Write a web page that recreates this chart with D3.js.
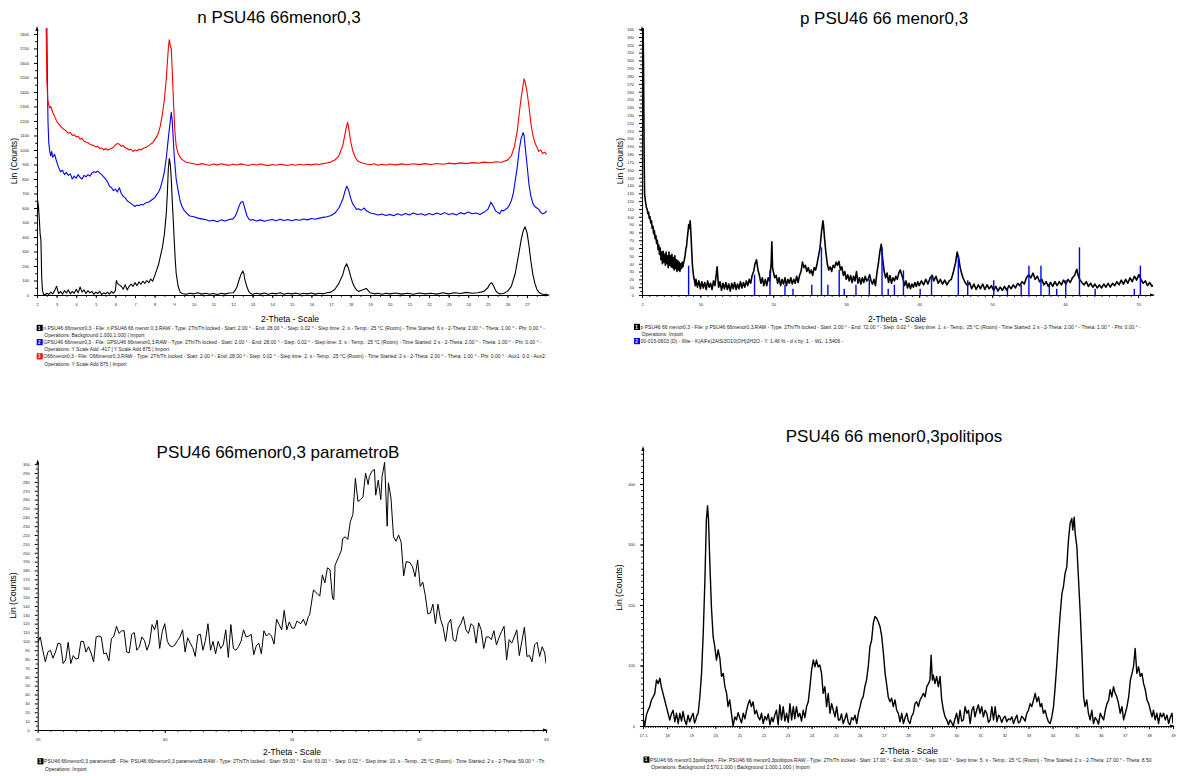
<!DOCTYPE html>
<html>
<head>
<meta charset="utf-8">
<script src="https://cdn.jsdelivr.net/npm/d3@7/dist/d3.min.js"></script>
<style>
  body { margin: 0; background: #fff; }
  svg { font-family: "Liberation Sans", Arial, sans-serif; }
</style>
</head>
<body>
<svg id="chart" width="1177" height="776"></svg>
<script>
// ---- n PSU46 66menor0,3 (three scans, 2-Theta vs counts) ----
const nScan = [[2.00,430],[2.04,650],[2.08,600],[2.12,520],[2.16,420],[2.2,380],[2.24,120],[2.28,30],[2.34,5],[2.4,0],[2.5,12],[2.6,3],[2.7,20],[2.8,8],[2.9,30],[3.0,60],[3.1,10],[3.2,25],[3.3,5],[3.4,30],[3.5,15],[3.6,35],[3.7,8],[3.8,25],[3.9,12],[4.0,40],[4.1,15],[4.2,55],[4.3,20],[4.4,35],[4.5,10],[4.6,30],[4.7,15],[4.8,25],[4.9,5],[5.0,20],[5.1,10],[5.2,25],[5.3,3],[5.4,15],[5.5,8],[5.6,20],[5.7,5],[5.8,25],[5.9,12],[6.0,30],[6.05,100],[6.1,80],[6.2,70],[6.3,60],[6.4,40],[6.5,70],[6.6,35],[6.7,60],[6.8,75],[6.9,60],[7.0,85],[7.1,65],[7.2,90],[7.3,75],[7.4,95],[7.5,80],[7.6,100],[7.7,85],[7.8,110],[7.9,95],[8.0,130],[8.1,170],[8.2,210],[8.3,270],[8.4,330],[8.5,420],[8.6,570],[8.65,700],[8.7,870],[8.75,940],[8.8,900],[8.85,800],[8.9,650],[8.95,520],[9.0,380],[9.05,250],[9.1,150],[9.2,60],[9.3,20],[9.4,10],[9.6,5],[9.8,12],[10.0,8],[10.2,15],[10.4,6],[10.6,12],[10.8,5],[11.0,10],[11.2,4],[11.4,12],[11.6,6],[11.8,14],[12.0,15],[12.1,30],[12.2,55],[12.3,100],[12.4,140],[12.5,165],[12.55,150],[12.6,110],[12.7,60],[12.8,25],[12.9,10],[13.0,5],[13.2,12],[13.4,6],[13.6,14],[13.8,5],[14.0,12],[14.2,8],[14.4,15],[14.6,5],[14.8,12],[15.0,8],[15.2,14],[15.4,5],[15.6,12],[15.8,8],[16.0,14],[16.2,6],[16.4,12],[16.6,8],[16.8,15],[17.0,20],[17.2,40],[17.4,80],[17.6,140],[17.7,190],[17.8,215],[17.9,180],[18.0,130],[18.1,85],[18.2,55],[18.3,35],[18.4,25],[18.5,30],[18.6,35],[18.7,40],[18.8,45],[18.9,30],[19.0,15],[19.2,8],[19.4,12],[19.6,5],[19.8,12],[20.0,8],[20.3,14],[20.6,6],[20.9,12],[21.2,5],[21.5,14],[21.8,8],[22.1,12],[22.4,6],[22.7,15],[23.0,8],[23.3,16],[23.6,10],[23.9,18],[24.2,12],[24.5,15],[24.8,25],[25.0,50],[25.1,75],[25.2,85],[25.3,60],[25.4,30],[25.5,15],[25.6,8],[25.8,10],[26.0,25],[26.2,60],[26.4,150],[26.6,300],[26.7,380],[26.8,440],[26.9,470],[27.0,430],[27.1,340],[27.2,230],[27.3,140],[27.4,80],[27.5,40],[27.6,20],[27.7,10],[27.8,5],[28.0,0]];

const gScan = [[2.47,2500],[2.5,1900],[2.53,1500],[2.56,1200],[2.6,1050],[2.65,990],[2.7,960],[2.75,990],[2.8,950],[2.9,970],[3.0,920],[3.1,880],[3.2,850],[3.3,860],[3.4,830],[3.5,845],[3.6,825],[3.7,835],[3.8,800],[3.9,820],[4.0,805],[4.1,830],[4.2,810],[4.3,800],[4.4,825],[4.5,815],[4.6,830],[4.7,820],[4.8,840],[4.9,850],[5.0,845],[5.1,855],[5.2,840],[5.3,830],[5.4,815],[5.5,800],[5.6,780],[5.7,750],[5.8,740],[5.9,720],[6.0,730],[6.1,710],[6.2,740],[6.3,700],[6.4,680],[6.5,670],[6.6,650],[6.7,640],[6.8,630],[6.9,620],[7.0,610],[7.1,620],[7.2,615],[7.3,625],[7.4,620],[7.5,630],[7.6,640],[7.7,640],[7.8,650],[7.9,660],[8.0,670],[8.1,690],[8.2,710],[8.3,740],[8.4,790],[8.5,850],[8.6,950],[8.7,1080],[8.8,1200],[8.85,1260],[8.9,1200],[8.95,1080],[9.0,960],[9.1,800],[9.2,720],[9.3,650],[9.4,610],[9.5,585],[9.6,570],[9.7,555],[9.8,545],[10.0,540],[10.2,530],[10.4,525],[10.6,520],[10.8,510],[11.0,515],[11.2,505],[11.4,518],[11.6,510],[11.8,520],[12.0,525],[12.1,540],[12.2,570],[12.3,610],[12.4,640],[12.5,645],[12.6,600],[12.7,550],[12.8,525],[12.9,515],[13.0,520],[13.2,510],[13.4,518],[13.6,508],[13.8,515],[14.0,520],[14.2,512],[14.4,522],[14.6,514],[14.8,520],[15.0,512],[15.2,520],[15.4,515],[15.6,524],[15.8,518],[16.0,528],[16.2,522],[16.4,530],[16.6,535],[16.8,540],[17.0,548],[17.2,565],[17.4,600],[17.6,660],[17.7,710],[17.8,750],[17.85,740],[17.9,720],[18.0,670],[18.1,630],[18.2,610],[18.3,590],[18.4,595],[18.5,585],[18.6,590],[18.7,600],[18.8,580],[18.9,575],[19.0,565],[19.2,560],[19.4,552],[19.6,558],[19.8,548],[20.0,556],[20.2,547],[20.4,560],[20.6,550],[20.8,562],[21.0,552],[21.2,566],[21.4,555],[21.6,560],[21.8,550],[22.0,562],[22.2,553],[22.4,565],[22.6,555],[22.8,568],[23.0,555],[23.2,562],[23.4,552],[23.6,568],[23.8,558],[24.0,572],[24.2,560],[24.4,565],[24.6,555],[24.8,570],[25.0,590],[25.1,620],[25.15,640],[25.25,620],[25.4,580],[25.5,570],[25.6,560],[25.7,585],[25.8,580],[26.0,600],[26.1,620],[26.2,650],[26.3,700],[26.4,790],[26.5,880],[26.6,1000],[26.7,1080],[26.8,1120],[26.85,1100],[26.9,1030],[27.0,900],[27.1,760],[27.2,680],[27.3,630],[27.4,610],[27.5,600],[27.6,590],[27.7,570],[27.8,560],[27.9,565],[28.0,580]];

const oScan = [[2.42,2500],[2.46,1900],[2.5,1500],[2.55,1340],[2.6,1310],[2.65,1290],[2.7,1300],[2.8,1260],[2.9,1230],[3.0,1200],[3.1,1180],[3.2,1165],[3.3,1150],[3.4,1140],[3.5,1130],[3.6,1115],[3.7,1120],[3.8,1100],[3.9,1105],[4.0,1090],[4.1,1095],[4.2,1075],[4.3,1080],[4.4,1060],[4.5,1055],[4.6,1050],[4.7,1040],[4.8,1035],[4.9,1030],[5.0,1020],[5.1,1025],[5.2,1010],[5.3,1015],[5.4,1000],[5.5,1010],[5.6,1000],[5.7,1005],[5.8,1010],[5.9,1020],[6.0,1035],[6.1,1045],[6.2,1040],[6.3,1025],[6.4,1030],[6.5,1015],[6.6,1010],[6.7,1000],[6.8,1005],[6.9,990],[7.0,1000],[7.1,995],[7.2,1005],[7.3,1000],[7.4,1010],[7.5,1015],[7.6,1020],[7.7,1030],[7.8,1040],[7.9,1050],[8.0,1070],[8.1,1090],[8.2,1120],[8.3,1170],[8.4,1250],[8.5,1350],[8.6,1500],[8.65,1600],[8.7,1700],[8.75,1760],[8.8,1720],[8.85,1700],[8.9,1550],[8.95,1380],[9.0,1220],[9.05,1100],[9.1,1030],[9.2,975],[9.3,950],[9.4,935],[9.5,925],[9.6,915],[9.8,910],[10.0,905],[10.2,898],[10.4,906],[10.6,900],[10.8,895],[11.0,903],[11.2,897],[11.4,905],[11.6,899],[11.8,894],[12.0,902],[12.2,896],[12.4,904],[12.6,898],[12.8,893],[13.0,901],[13.2,896],[13.4,903],[13.6,897],[13.8,892],[14.0,900],[14.2,895],[14.4,902],[14.6,897],[14.8,893],[15.0,900],[15.2,895],[15.4,901],[15.6,896],[15.8,902],[16.0,897],[16.2,903],[16.4,900],[16.6,906],[16.8,910],[17.0,918],[17.2,930],[17.4,960],[17.6,1030],[17.7,1100],[17.8,1170],[17.85,1190],[17.9,1150],[18.0,1060],[18.1,1000],[18.2,960],[18.3,935],[18.4,920],[18.6,910],[18.8,903],[19.0,898],[19.2,905],[19.4,895],[19.6,902],[19.8,896],[20.0,903],[20.3,897],[20.6,904],[20.9,898],[21.2,905],[21.5,899],[21.8,906],[22.1,900],[22.4,907],[22.7,902],[23.0,909],[23.3,904],[23.6,911],[23.9,906],[24.2,913],[24.5,909],[24.8,916],[25.1,912],[25.4,919],[25.7,915],[26.0,930],[26.2,960],[26.35,1020],[26.5,1130],[26.6,1250],[26.7,1360],[26.8,1450],[26.85,1490],[26.9,1470],[27.0,1400],[27.1,1300],[27.2,1180],[27.3,1100],[27.4,1050],[27.5,1020],[27.6,990],[27.7,1000],[27.8,975],[27.9,985],[28.0,970]];

const tlXTicks = [2,3,4,5,6,7,8,9,10,11,12,13,14,15,16,17,18,19,20,21,22,23,24,25,26,27];
const tlYTicks = [0,100,200,300,400,500,600,700,800,900,1000,1100,1200,1300,1400,1500,1600,1700,1800];
const tlLegend = [
  ["n PSU46 66menor0,3 - File: n PSU46 66 menor 0,3.RAW - Type: 2Th/Th locked - Start: 2.00 ° - End: 28.00 ° - Step: 0.02 ° - Step time: 2. s - Temp.: 25 °C (Room) - Time Started: 6 s - 2-Theta: 2.00 ° - Theta: 1.00 ° - Phi: 0.00 ° -",
   "Operations: Background 1.000,1.000 | Import"],
  ["GPSU46 66menor0,3 - File: GPSU46 66menor0,3.RAW - Type: 2Th/Th locked - Start: 2.00 ° - End: 28.00 ° - Step: 0.02 ° - Step time: 3. s - Temp.: 25 °C (Room) - Time Started: 2 s - 2-Theta: 2.00 ° - Theta: 1.00 ° - Phi: 0.00 ° -",
   "Operations: Y Scale Add -417 | Y Scale Add 875 | Import"],
  ["O66menor0,3 - File: O66menor0,3.RAW - Type: 2Th/Th locked - Start: 2.00 ° - End: 28.00 ° - Step: 0.02 ° - Step time: 2. s - Temp.: 25 °C (Room) - Time Started: 2 s - 2-Theta: 2.00 ° - Theta: 1.00 ° - Phi: 0.00 ° - Aux1: 0.0 - Aux2:",
   "Operations: Y Scale Add 875 | Import"]
];

// ---- p PSU46 66 menor0,3 (scan + Illite reference sticks) ----
const pScan = [[2.0,400],[2.1,380],[2.2,300],[2.3,170],[2.35,130],[2.4,125],[2.5,118],[2.6,112],[2.7,110],[2.8,104],[2.9,106],[3.0,98],[3.1,100],[3.2,92],[3.3,95],[3.4,85],[3.5,88],[3.6,78],[3.7,82],[3.8,72],[3.9,76],[4.0,66],[4.1,70],[4.2,58],[4.3,64],[4.4,52],[4.5,60],[4.6,45],[4.7,55],[4.8,40],[4.9,56],[5.0,42],[5.1,52],[5.2,38],[5.3,55],[5.4,40],[5.5,50],[5.6,35],[5.7,55],[5.8,38],[5.9,50],[6.0,36],[6.1,52],[6.2,35],[6.3,48],[6.4,32],[6.5,50],[6.6,34],[6.7,45],[6.8,30],[6.9,44],[7.0,32],[7.1,42],[7.2,30],[7.3,40],[7.4,34],[7.5,42],[7.6,36],[7.8,45],[7.9,50],[8.0,58],[8.1,62],[8.2,72],[8.3,80],[8.4,90],[8.5,85],[8.6,95],[8.7,80],[8.8,60],[8.9,40],[9.0,30],[9.1,22],[9.2,18],[9.3,12],[9.4,20],[9.6,10],[9.8,18],[10.0,8],[10.2,17],[10.4,9],[10.6,16],[10.8,7],[11.0,18],[11.2,10],[11.4,15],[11.6,7],[11.8,18],[12.0,12],[12.2,28],[12.3,36],[12.4,22],[12.5,10],[12.7,17],[12.9,6],[13.1,15],[13.3,8],[13.5,16],[13.7,7],[13.9,14],[14.1,5],[14.3,15],[14.5,8],[14.7,16],[14.9,7],[15.1,14],[15.3,8],[15.5,17],[15.7,9],[15.9,16],[16.1,10],[16.3,18],[16.5,12],[16.7,20],[16.9,15],[17.1,25],[17.3,30],[17.5,40],[17.7,45],[17.9,32],[18.1,25],[18.3,15],[18.5,22],[18.7,12],[18.9,20],[19.1,12],[19.3,22],[19.5,18],[19.7,40],[19.8,68],[19.9,35],[20.0,30],[20.2,22],[20.4,25],[20.6,15],[20.8,22],[21.0,12],[21.2,20],[21.4,14],[21.6,22],[21.8,12],[22.0,20],[22.2,15],[22.4,22],[22.6,14],[22.8,20],[23.0,15],[23.2,24],[23.4,16],[23.6,25],[23.8,30],[24.0,42],[24.2,35],[24.4,38],[24.6,30],[24.8,35],[25.0,28],[25.2,32],[25.4,25],[25.6,35],[25.8,32],[26.0,40],[26.2,50],[26.4,60],[26.6,80],[26.8,95],[26.9,88],[27.0,75],[27.2,55],[27.4,40],[27.6,32],[27.8,36],[28.0,30],[28.2,38],[28.4,35],[28.6,42],[28.8,38],[29.0,43],[29.2,32],[29.4,36],[29.6,25],[29.8,30],[30.0,20],[30.2,26],[30.4,18],[30.6,25],[30.8,16],[31.0,24],[31.2,18],[31.4,30],[31.6,15],[31.8,22],[32.0,14],[32.2,22],[32.4,16],[32.6,24],[32.8,18],[33.0,20],[33.2,26],[33.4,18],[33.6,14],[33.8,20],[34.0,12],[34.2,28],[34.4,40],[34.6,55],[34.8,65],[34.9,55],[35.0,45],[35.2,30],[35.4,22],[35.6,28],[35.8,16],[36.0,25],[36.2,15],[36.4,22],[36.6,18],[36.8,24],[37.0,20],[37.2,28],[37.4,32],[37.6,26],[37.8,20],[38.0,12],[38.2,18],[38.4,9],[38.6,15],[38.8,8],[39.0,14],[39.2,10],[39.4,16],[39.6,11],[39.8,17],[40.0,12],[40.3,18],[40.6,13],[40.9,20],[41.2,14],[41.5,22],[41.8,25],[42.0,18],[42.3,24],[42.6,15],[42.9,20],[43.2,14],[43.5,19],[43.8,13],[44.1,18],[44.4,20],[44.7,30],[45.0,42],[45.2,55],[45.4,48],[45.6,36],[45.8,28],[46.0,22],[46.3,16],[46.6,12],[46.9,16],[47.2,8],[47.5,14],[47.8,7],[48.1,13],[48.4,8],[48.7,14],[49.0,7],[49.3,13],[49.6,8],[49.9,12],[50.2,6],[50.5,11],[50.8,5],[51.1,10],[51.4,6],[51.7,11],[52.0,6],[52.3,12],[52.6,8],[52.9,13],[53.2,9],[53.5,15],[53.8,12],[54.1,17],[54.4,14],[54.7,22],[55.0,26],[55.3,22],[55.6,28],[55.9,20],[56.2,24],[56.5,17],[56.8,20],[57.1,13],[57.4,17],[57.7,11],[58.0,16],[58.3,11],[58.6,17],[58.9,12],[59.2,17],[59.5,13],[59.8,19],[60.1,14],[60.4,20],[60.7,16],[61.0,22],[61.3,25],[61.6,33],[61.8,25],[62.0,20],[62.3,16],[62.6,13],[62.9,17],[63.2,11],[63.5,15],[63.8,10],[64.1,14],[64.4,9],[64.7,13],[65.0,9],[65.3,14],[65.6,10],[65.9,15],[66.2,10],[66.5,15],[66.8,12],[67.1,17],[67.4,13],[67.7,19],[68.0,14],[68.3,20],[68.6,15],[68.9,22],[69.2,17],[69.5,24],[69.8,19],[70.1,26],[70.4,20],[70.7,15],[71.0,18],[71.3,12],[71.6,16],[71.9,11],[72.0,13]];

const illiteSticks = [[8.39,37.5],[17.43,26],[19.54,31.5],[21.6,13],[22.7,8],[25.27,13],[26.6,61],[27.48,13],[29.03,32],[29.72,8],[31.33,13],[33.16,20],[34.9,61],[35.75,8],[36.6,13],[37.84,31.5],[40.13,8],[41.69,26],[45.36,49],[46.65,19],[50.22,19],[52.1,8],[53.98,13],[55.04,37.5],[56.69,37.5],[57.84,13],[58.85,8],[60.09,19],[61.97,61],[64.12,8],[69.49,8],[70.32,37.5]];

const trXTicks = [2,10,20,30,40,50,60,70];
const trYTicks = [0,10,20,30,40,50,60,70,80,90,100,110,120,130,140,150,160,170,180,190,200,210,220,230,240,250,260,270,280,290,300,310,320,330,340];
const trLegend = [
  ["p PSU46 66 menor0,3 - File: p PSU46 66menor0,3.RAW - Type: 2Th/Th locked - Start: 2.00 ° - End: 72.00 ° - Step: 0.02 ° - Step time: 1. s - Temp.: 25 °C (Room) - Time Started: 2 s - 2-Theta: 2.00 ° - Theta: 1.00 ° - Phi: 0.00 ° -",
   "Operations: Import"],
  ["00-015-0603 (D) - Illite - K(AlFe)2AlSi3O10(OH)2H2O - Y: 1.46 % - d x by: 1. - WL: 1.5406 -"]
];

// ---- PSU46 66menor0,3 parametroB ----
const bScan = [[59.00,98],[59.02,105],[59.04,90],[59.06,77],[59.08,88],[59.10,90],[59.12,81],[59.14,88],[59.16,98],[59.18,97],[59.20,75],[59.22,79],[59.24,99],[59.26,75],[59.28,84],[59.30,80],[59.32,81],[59.34,100],[59.36,100],[59.38,88],[59.40,94],[59.42,87],[59.44,77],[59.46,105],[59.48,106],[59.50,105],[59.52,86],[59.54,87],[59.56,78],[59.58,103],[59.60,106],[59.62,117],[59.64,109],[59.66,112],[59.68,112],[59.70,88],[59.72,87],[59.74,108],[59.76,110],[59.78,90],[59.80,94],[59.82,105],[59.84,101],[59.86,90],[59.88,98],[59.90,119],[59.92,113],[59.94,124],[59.96,92],[59.98,111],[60.00,120],[60.02,100],[60.04,95],[60.06,94],[60.08,96],[60.10,101],[60.12,105],[60.14,113],[60.16,88],[60.18,104],[60.20,98],[60.22,93],[60.24,83],[60.26,107],[60.28,108],[60.30,90],[60.32,101],[60.34,120],[60.36,90],[60.38,100],[60.40,86],[60.42,100],[60.44,92],[60.46,96],[60.48,113],[60.50,82],[60.52,119],[60.54,92],[60.56,90],[60.58,94],[60.60,100],[60.62,113],[60.64,105],[60.66,106],[60.68,108],[60.70,85],[60.72,95],[60.74,98],[60.76,86],[60.78,112],[60.80,106],[60.82,109],[60.84,106],[60.86,97],[60.88,125],[60.90,119],[60.92,113],[60.94,135],[60.96,113],[60.98,122],[61.00,115],[61.02,115],[61.04,123],[61.07,120],[61.09,125],[61.11,118],[61.13,128],[61.14,130],[61.17,158],[61.20,154],[61.22,151],[61.24,175],[61.26,166],[61.28,183],[61.30,181],[61.32,149],[61.33,147],[61.34,186],[61.37,196],[61.39,203],[61.40,216],[61.42,218],[61.44,215],[61.46,235],[61.48,243],[61.50,284],[61.52,258],[61.54,260],[61.56,263],[61.58,290],[61.60,277],[61.61,286],[61.63,292],[61.65,294],[61.66,265],[61.68,282],[61.70,260],[61.71,286],[61.73,302],[61.75,230],[61.76,279],[61.78,262],[61.80,218],[61.82,213],[61.84,220],[61.86,212],[61.88,174],[61.90,190],[61.93,189],[61.95,184],[61.97,173],[61.99,192],[62.01,162],[62.03,167],[62.05,152],[62.07,131],[62.09,132],[62.11,142],[62.13,120],[62.15,142],[62.17,125],[62.19,116],[62.21,100],[62.23,120],[62.25,125],[62.27,102],[62.29,100],[62.31,115],[62.33,120],[62.35,128],[62.37,113],[62.39,109],[62.41,120],[62.43,117],[62.45,98],[62.47,121],[62.49,113],[62.51,92],[62.53,105],[62.55,105],[62.57,102],[62.59,112],[62.61,96],[62.63,104],[62.65,111],[62.67,117],[62.69,79],[62.71,102],[62.73,98],[62.75,105],[62.77,113],[62.79,84],[62.81,100],[62.83,116],[62.85,83],[62.87,84],[62.89,77],[62.91,96],[62.93,99],[62.95,83],[62.97,94],[62.99,87],[63.00,75]];

const blXTicks = [59,60,61,62,63];
const blYTicks = [0,10,20,30,40,50,60,70,80,90,100,110,120,130,140,150,160,170,180,190,200,210,220,230,240,250,260,270,280,290,300];
const blLegend = [
  ["PSU46 66menor0,3 parametroB - File: PSU46 66menor0,3 parametroB.RAW - Type: 2Th/Th locked - Start: 59.00 ° - End: 63.00 ° - Step: 0.02 ° - Step time: 10. s - Temp.: 25 °C (Room) - Time Started: 2 s - 2-Theta: 59.00 ° - Th",
   "Operations: Import"]
];

// ---- PSU46 66 menor0,3politipos ----
const polScan = [[17.00,15],[17.07,0],[17.14,18],[17.21,26],[17.28,32],[17.35,43],[17.42,48],[17.49,54],[17.56,76],[17.63,70],[17.70,79],[17.76,65],[17.83,54],[17.90,43],[17.97,32],[18.04,21],[18.11,10],[18.18,20],[18.25,26],[18.32,7],[18.39,21],[18.46,4],[18.53,21],[18.60,8],[18.66,24],[18.73,10],[18.80,2],[18.87,18],[18.94,7],[19.01,15],[19.08,21],[19.14,5],[19.19,10],[19.24,18],[19.29,21],[19.36,48],[19.43,87],[19.50,153],[19.57,241],[19.63,340],[19.68,364],[19.72,340],[19.77,274],[19.84,197],[19.91,148],[19.98,131],[20.05,109],[20.12,126],[20.19,112],[20.26,82],[20.33,87],[20.40,65],[20.47,54],[20.53,32],[20.60,43],[20.67,21],[20.74,0],[20.81,15],[20.88,10],[20.95,22],[21.02,13],[21.09,5],[21.16,21],[21.23,12],[21.30,26],[21.37,37],[21.43,43],[21.50,32],[21.57,40],[21.64,20],[21.71,26],[21.78,15],[21.85,10],[21.92,21],[21.99,4],[22.06,16],[22.13,10],[22.20,20],[22.27,2],[22.34,14],[22.40,7],[22.47,18],[22.54,26],[22.61,2],[22.68,35],[22.75,10],[22.82,32],[22.89,8],[22.96,21],[23.03,6],[23.10,37],[23.17,10],[23.24,32],[23.30,12],[23.37,32],[23.44,15],[23.51,21],[23.58,8],[23.65,26],[23.72,14],[23.79,32],[23.86,40],[23.93,65],[24.00,93],[24.07,109],[24.14,98],[24.20,109],[24.27,98],[24.34,101],[24.41,87],[24.48,54],[24.55,65],[24.62,32],[24.69,54],[24.76,21],[24.83,37],[24.90,26],[24.97,15],[25.04,32],[25.11,10],[25.17,10],[25.24,20],[25.31,4],[25.38,12],[25.45,21],[25.52,6],[25.59,2],[25.66,14],[25.73,10],[25.80,18],[25.87,4],[25.94,21],[26.01,32],[26.07,43],[26.14,48],[26.21,65],[26.28,76],[26.35,98],[26.42,131],[26.49,142],[26.56,170],[26.63,181],[26.70,178],[26.77,172],[26.84,164],[26.91,148],[26.98,120],[27.05,87],[27.11,70],[27.18,48],[27.25,40],[27.32,46],[27.39,32],[27.46,43],[27.53,26],[27.60,21],[27.67,7],[27.74,21],[27.81,4],[27.88,14],[27.95,21],[28.01,9],[28.08,4],[28.15,16],[28.22,21],[28.29,37],[28.36,40],[28.43,32],[28.50,43],[28.57,48],[28.64,54],[28.71,48],[28.78,65],[28.85,70],[28.91,76],[28.96,117],[29.01,76],[29.05,84],[29.12,70],[29.19,82],[29.26,65],[29.33,82],[29.40,43],[29.47,26],[29.54,15],[29.61,10],[29.68,2],[29.75,10],[29.82,5],[29.88,0],[29.95,12],[30.02,21],[30.09,4],[30.16,26],[30.23,8],[30.30,10],[30.37,32],[30.44,21],[30.51,26],[30.58,4],[30.65,26],[30.72,32],[30.78,15],[30.85,26],[30.92,35],[30.99,21],[31.06,32],[31.13,15],[31.20,26],[31.27,21],[31.34,6],[31.41,10],[31.48,32],[31.55,10],[31.62,32],[31.69,7],[31.76,18],[31.82,15],[31.89,6],[31.96,13],[32.03,16],[32.10,7],[32.17,12],[32.24,10],[32.31,15],[32.38,4],[32.45,12],[32.52,18],[32.58,5],[32.65,7],[32.72,16],[32.79,13],[32.86,8],[32.93,21],[33.00,26],[33.07,37],[33.14,32],[33.21,43],[33.28,54],[33.35,40],[33.42,48],[33.49,32],[33.55,37],[33.62,21],[33.69,26],[33.76,15],[33.83,7],[33.90,4],[33.97,15],[34.04,32],[34.11,65],[34.18,104],[34.25,148],[34.32,186],[34.39,219],[34.45,230],[34.52,252],[34.59,263],[34.66,307],[34.73,335],[34.80,343],[34.84,324],[34.90,345],[34.94,318],[35.01,296],[35.08,241],[35.15,186],[35.22,120],[35.29,48],[35.35,32],[35.42,43],[35.49,21],[35.56,10],[35.63,26],[35.70,4],[35.77,14],[35.84,10],[35.91,3],[35.98,21],[36.05,15],[36.12,10],[36.19,26],[36.26,37],[36.33,43],[36.39,60],[36.46,48],[36.53,65],[36.60,54],[36.67,48],[36.74,37],[36.81,21],[36.88,32],[36.95,10],[37.02,21],[37.09,32],[37.16,48],[37.23,76],[37.30,87],[37.36,98],[37.43,128],[37.50,87],[37.57,98],[37.64,82],[37.71,87],[37.78,70],[37.85,60],[37.92,43],[37.99,37],[38.06,26],[38.13,15],[38.19,26],[38.26,10],[38.33,21],[38.40,4],[38.47,21],[38.54,15],[38.61,21],[38.68,10],[38.75,18],[38.82,4],[38.89,15],[38.96,21],[39.00,4]];

const brXTicks = [17,18,19,20,21,22,23,24,25,26,27,28,29,30,31,32,33,34,35,36,37,38,39];
const brXLabels = ["17.1","18","19","20","21","22","23","24","25","26","27","28","29","30","31","32","33","34","35","36","37","38","39"];
const brYTicks = [0,100,200,300,400];
const brLegend = [
  ["PSU46 66 menor0,3politipos - File: PSU46 66 menor0,3politipos.RAW - Type: 2Th/Th locked - Start: 17.00 ° - End: 39.00 ° - Step: 0.02 ° - Step time: 5. s - Temp.: 25 °C (Room) - Time Started: 2 s - 2-Theta: 17.00 ° - Theta: 8.50",
   "Operations: Background 2.570,1.000 | Background 1.000,1.000 | Import"]
];

const svg = d3.select("#chart");
let clipCount = 0;

function drawPanel(p) {
  const x = d3.scaleLinear().domain(p.xDomain).range(p.xRange);
  const y = d3.scaleLinear().domain(p.yDomain).range(p.yRange);
  const g = svg.append("g");
  const clipId = "clip" + (clipCount++);
  g.append("clipPath").attr("id", clipId).append("rect")
    .attr("x", p.xRange[0]).attr("y", p.yRange[1])
    .attr("width", p.xRange[1] - p.xRange[0]).attr("height", p.yRange[0] - p.yRange[1]);

  // minor ticks first, then labelled ticks
  g.append("g").attr("transform", `translate(0,${p.yRange[0]})`)
    .call(d3.axisBottom(x).tickValues(p.xMinor).tickSize(1.8).tickFormat(""))
    .call(a => a.select(".domain").remove());
  g.append("g").attr("transform", `translate(${p.xRange[0]},0)`)
    .call(d3.axisLeft(y).tickValues(p.yMinor).tickSize(1.8).tickFormat(""))
    .call(a => a.select(".domain").remove());
  const xa = g.append("g").attr("transform", `translate(0,${p.yRange[0]})`)
    .call(d3.axisBottom(x).tickValues(p.xTicks).tickSize(3).tickSizeOuter(0).tickPadding(5.5)
      .tickFormat((d, i) => p.xLabels ? p.xLabels[i] : d3.format("d")(d)));
  const ya = g.append("g").attr("transform", `translate(${p.xRange[0]},0)`)
    .call(d3.axisLeft(y).tickValues(p.yTicks).tickSize(3).tickSizeOuter(0).tickPadding(5)
      .tickFormat(d3.format("d")));
  [xa, ya].forEach(a => a.attr("font-size", 4).attr("font-family", null).selectAll("text").attr("fill", "#222"));

  // axis end arrows
  const x0 = p.xRange[0], x1 = p.xRange[1], y0 = p.yRange[0], y1 = p.yRange[1];
  g.append("path").attr("d", `M${x0},${y1 - 2}L${x0 - 1.6},${y1 + 3}L${x0 + 1.6},${y1 + 3}Z`).attr("fill", "#000");
  g.append("path").attr("d", `M${x1 + 2},${y0}L${x1 - 3},${y0 - 1.6}L${x1 - 3},${y0 + 1.6}Z`).attr("fill", "#000");

  const line = d3.line().x(d => x(d[0])).y(d => y(d[1]));
  p.series.forEach(s => {
    g.append("path").datum(s.data)
      .attr("clip-path", `url(#${clipId})`)
      .attr("fill", "none").attr("stroke", s.color)
      .attr("stroke-width", s.width).attr("stroke-linejoin", "round")
      .attr("d", line);
  });
  if (p.sticks) {
    g.selectAll(".stick").data(p.sticks).join("line").attr("class", "stick")
      .attr("x1", d => x(d[0])).attr("x2", d => x(d[0]))
      .attr("y1", y(0)).attr("y2", d => y(d[1]))
      .attr("stroke", "#0000ff").attr("stroke-width", 1.4);
  }

  g.append("text").attr("x", p.titleX).attr("y", p.titleY).attr("text-anchor", "middle")
    .attr("font-size", 17).attr("fill", "#000").text(p.title);
  g.append("text").attr("x", p.xLabelX).attr("y", p.xLabelY).attr("text-anchor", "middle")
    .attr("font-size", 8.5).attr("fill", "#000").text("2-Theta - Scale");
  g.append("text").attr("transform", `translate(${p.yLabelX},${p.yLabelY}) rotate(-90)`)
    .attr("text-anchor", "middle").attr("font-size", 8.5).attr("fill", "#000").text("Lin (Counts)");

  // legend
  let row = 0;
  p.legend.forEach((entry, i) => {
    entry.forEach((txt, j) => {
      const ly = p.legendY + row * p.legendStep;
      if (j === 0) {
        g.append("rect").attr("x", p.legendX).attr("y", ly - 5.2)
          .attr("width", 6).attr("height", 6.2).attr("fill", p.legendColors[i]);
        g.append("text").attr("x", p.legendX + 1.3).attr("y", ly - 0.3)
          .attr("font-size", 4.5).attr("font-weight", "bold").attr("fill", "#fff").text(i + 1);
      }
      g.append("text").attr("x", j === 0 ? p.legendX + 6.6 : p.legendX + 7.6).attr("y", ly)
        .attr("font-size", 5).attr("fill", "#222").text(txt);
      row++;
    });
  });
}

drawPanel({
  title: "n PSU46 66menor0,3", titleX: 279, titleY: 23,
  xDomain: [2, 28.07], xRange: [37, 548], yDomain: [0, 1841], yRange: [295, 28],
  xTicks: tlXTicks, xMinor: d3.range(2.5, 28, 0.5), yTicks: tlYTicks, yMinor: d3.range(50, 1800, 100),
  series: [
    {data: nScan, color: "#000000", width: 1.1},
    {data: gScan, color: "#0000ff", width: 1.1},
    {data: oScan, color: "#ff0000", width: 1.1}
  ],
  xLabelX: 290, xLabelY: 322, yLabelX: 16.5, yLabelY: 161,
  legend: tlLegend, legendColors: ["#000000", "#0000ff", "#ff0000"],
  legendX: 36.7, legendY: 330, legendStep: 7.1
});

drawPanel({
  title: "p PSU46 66 menor0,3", titleX: 884, titleY: 24,
  xDomain: [2, 72.05], xRange: [642, 1153], yDomain: [0, 341.5], yRange: [295, 28],
  xTicks: trXTicks, xMinor: d3.range(3, 72, 1), yTicks: trYTicks, yMinor: d3.range(5, 340, 10),
  series: [{data: pScan, color: "#000000", width: 1.6}],
  sticks: illiteSticks,
  xLabelX: 897, xLabelY: 322, yLabelX: 623, yLabelY: 161,
  legend: trLegend, legendColors: ["#000000", "#0000ff"],
  legendX: 634, legendY: 329, legendStep: 7.1
});

drawPanel({
  title: "PSU46 66menor0,3 parametroB", titleX: 278, titleY: 458,
  xDomain: [59, 63], xRange: [37.7, 546], yDomain: [0, 303], yRange: [730, 461.5],
  xTicks: blXTicks, xMinor: d3.range(59.1, 63, 0.1), yTicks: blYTicks, yMinor: d3.range(5, 300, 10),
  series: [{data: bScan, color: "#000000", width: 1}],
  xLabelX: 292, xLabelY: 755, yLabelX: 15.7, yLabelY: 595.5,
  legend: blLegend, legendColors: ["#000000"],
  legendX: 37.5, legendY: 763.4, legendStep: 7.4
});

drawPanel({
  title: "PSU46 66 menor0,3politipos", titleX: 894, titleY: 442,
  xDomain: [17, 39], xRange: [643, 1173], yDomain: [0, 459.5], yRange: [726, 448],
  xTicks: brXTicks, xLabels: brXLabels, xMinor: d3.range(17.1, 39, 0.1), yTicks: brYTicks, yMinor: d3.range(10, 459, 10),
  series: [{data: polScan, color: "#000000", width: 1.4}],
  xLabelX: 909, xLabelY: 754, yLabelX: 622, yLabelY: 587.5,
  legend: brLegend, legendColors: ["#000000"],
  legendX: 643.5, legendY: 761.7, legendStep: 7.4
});
</script>
</body>
</html>
